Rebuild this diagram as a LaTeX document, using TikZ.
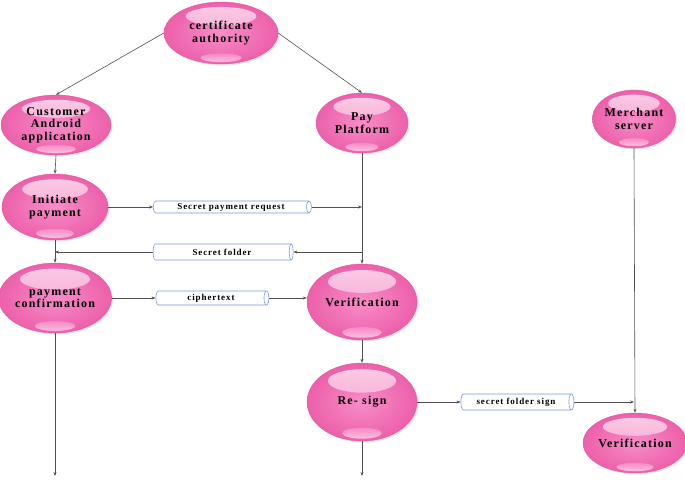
\documentclass[tikz,border=0pt]{standalone}
\usepackage{fontspec}
\setmainfont{Liberation Serif}
\newfontfamily\labfont[LetterSpace=10]{Liberation Serif}
\usetikzlibrary{shapes.geometric,shadows,arrows.meta,calc}
\definecolor{pinkin}{RGB}{248,140,200}
\definecolor{pinkout}{RGB}{236,96,170}
\definecolor{pinkedge}{RGB}{230,90,165}
\definecolor{pipeblue}{RGB}{120,155,225}
\definecolor{linegray}{RGB}{80,80,80}
\tikzset{
  bubble/.style args={#1/#2}{ellipse, minimum width=#1pt, minimum height=#2pt, inner sep=0pt,
    draw=pinkedge, line width=0.4pt, inner color=pinkin, outer color=pinkout,
    drop shadow={shadow xshift=1.5pt, shadow yshift=-1.5pt, opacity=0.2},
    font=\labfont\bfseries\fontsize{12}{12.5}\selectfont, align=center, text=black,
    path picture={
      \shade[top color=white!75!pinkin, bottom color=pinkin, opacity=0.85]
        let \p1=(path picture bounding box.north east), \p2=(path picture bounding box.south west),
        \p3=(path picture bounding box.center) in
        (\x3, {\y1-0.23*(\y1-\y2)}) ellipse ({0.31*(\x1-\x2)} and {0.15*(\y1-\y2)});
      \shade[top color=pinkin, bottom color=white!55!pinkin, opacity=0.9]
        let \p1=(path picture bounding box.north east), \p2=(path picture bounding box.south west),
        \p3=(path picture bounding box.center) in
        (\x3, {\y2+0.1*(\y1-\y2)}) ellipse ({0.18*(\x1-\x2)} and {0.07*(\y1-\y2)});
    }},
  pipe/.style args={#1/#2}{cylinder, shape aspect=0.6, minimum width=#2pt, minimum height=#1pt,
    inner sep=0pt, draw=pipeblue, line width=0.6pt, fill=white,
    font=\labfont\bfseries\fontsize{9}{10}\selectfont, text=black},
  conn/.style={draw=linegray, line width=0.6pt, -{Stealth[length=4pt,width=3pt]}}
}
\begin{document}
\begin{tikzpicture}[x=1pt,y=-1pt]
\useasboundingbox (0,0) rectangle (685,479);
% ellipses
\node[bubble=114/62] (ca) at (221,33) {certificate\\authority};
\node[bubble=110/60] (cust) at (56,125) {Customer\\Android\\application};
\node[bubble=92/60] (pay) at (362,123) {Pay\\Platform};
\node[bubble=76/58] (merch) at (634,119) {Merchant\\server};
\node[bubble=106/66] (init) at (55,207) {Initiate\\payment};
\node[bubble=106/70] (conf) at (55,298) {payment\\confirmation};
\node[bubble=110/76] (ver1) at (362,302) {Verification};
\node[bubble=110/78] (resign) at (362,402) {Re- sign};
\node[bubble=96/60] (ver2) at (635,443) {Verification};
% pipes
\node[pipe=158/12] (spr) at (231,207) {Secret payment request};
\node[pipe=140/16] (sf) at (222,252) {Secret folder};
\node[pipe=113/14] (ciph) at (211,298) {ciphertext};
\node[pipe=113/16] (sfs) at (516,402) {secret folder sign};
% free ends
\coordinate (end1) at (55,476);
\coordinate (end2) at (362,476);
% connectors
\draw[conn] (ca.west) -- (cust.north);
\draw[conn] (ca.east) -- (pay.north);
\draw[conn] (cust.south) -- (init.north);
\draw[conn] (init.east) -- (spr.west);
\draw[conn] (spr.east) -- (spr.east -| pay.south);
\draw[conn] (pay.south) -- (ver1.north);
\draw[conn] (sf.east -| pay.south) -- (sf.east);
\draw[conn] (sf.west) -- (sf.west -| init.south);
\draw[conn] (init.south) -- (conf.north);
\draw[conn] (conf.east) -- (ciph.west);
\draw[conn] (ciph.east) -- (ciph.east -| ver1.west);
\draw[conn] (conf.south) -- (end1);
\draw[conn] (ver1.south) -- (resign.north);
\draw[conn] (resign.east) -- (sfs.west);
\draw[conn] (sfs.east) -- (sfs.east -| merch.south);
\draw[conn] (merch.south) -- (ver2.north);
\draw[conn] (resign.south) -- (end2);
\end{tikzpicture}
\end{document}
